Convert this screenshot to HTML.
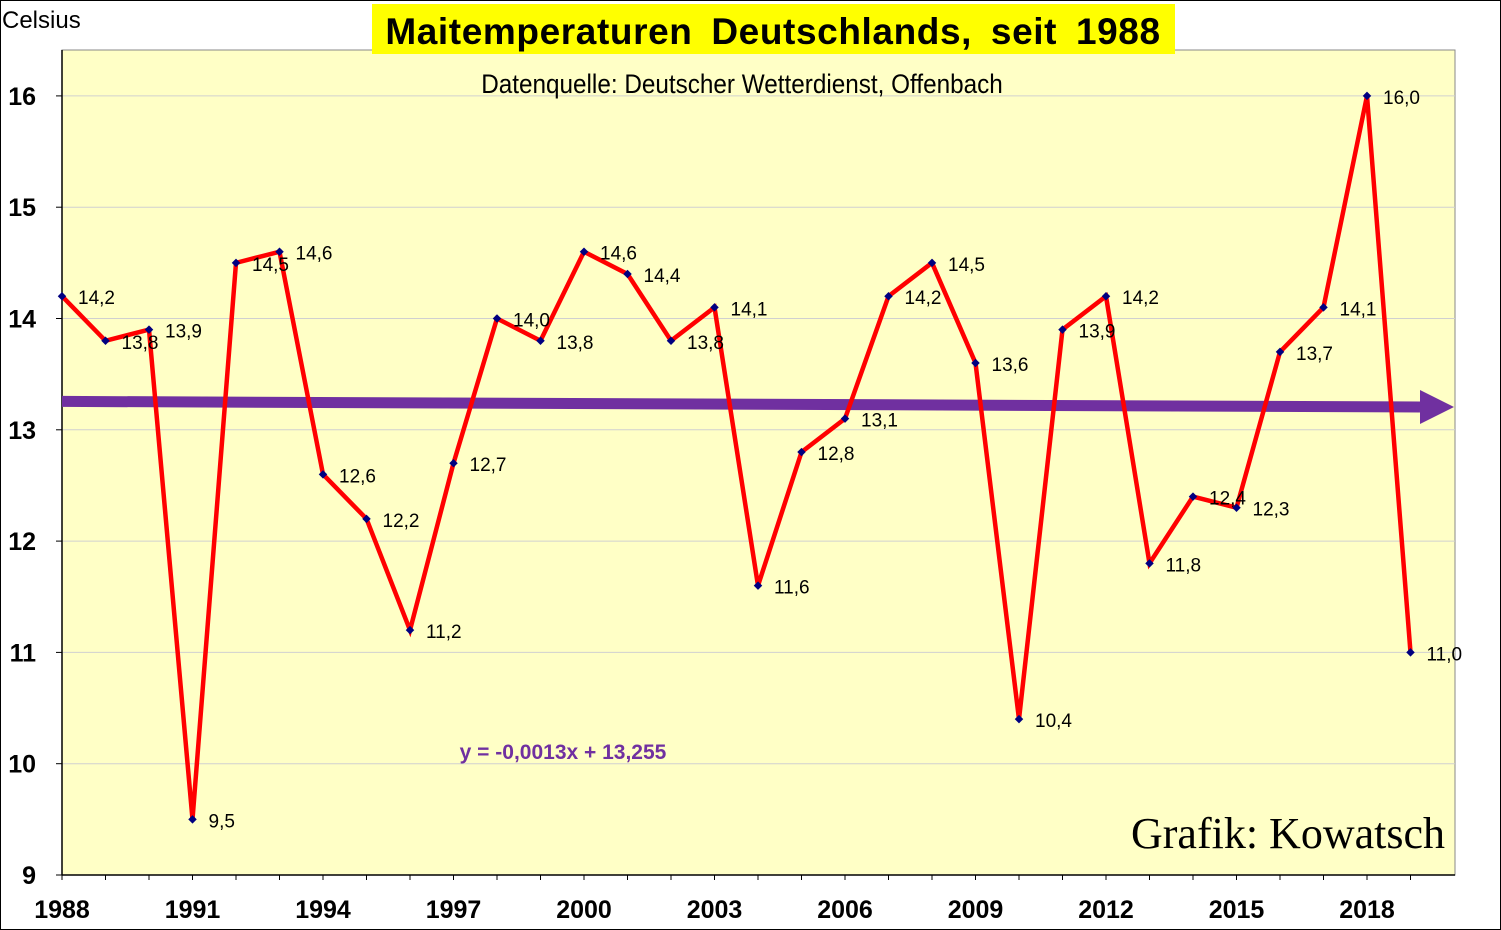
<!DOCTYPE html>
<html><head><meta charset="utf-8"><style>
body{margin:0;background:#fff;}
svg{display:block;font-family:"Liberation Sans",sans-serif;}
</style></head><body>
<svg id="chart" width="1501" height="930" viewBox="0 0 1501 930">
<rect x="0.5" y="0.5" width="1500" height="929" fill="#fff" stroke="#000"/>
<rect x="62" y="50" width="1393" height="825" fill="#FFFFC6" stroke="#888"/>
<g id="grid"></g>
<g id="axes"></g>
<g id="trend"></g>
<g id="series"></g>
<text x="2" y="28" font-size="24">Celsius</text>
<rect x="372" y="4" width="803" height="50" fill="#FFFF00"/>
<text x="773" y="44" font-size="37" font-weight="bold" text-anchor="middle" word-spacing="8" letter-spacing="0.6">Maitemperaturen Deutschlands, seit 1988</text>
<text x="742" y="93" font-size="27" text-anchor="middle" transform="translate(742 0) scale(0.9 1) translate(-742 0)">Datenquelle: Deutscher Wetterdienst, Offenbach</text>
<text x="563" y="759" font-size="21" font-weight="bold" fill="#7030A0" text-anchor="middle">y = -0,0013x + 13,255</text>
<text x="1445" y="848" font-size="44" font-family="Liberation Serif,serif" text-anchor="end">Grafik: Kowatsch</text>
</svg>
<script>
const years=[1988,1989,1990,1991,1992,1993,1994,1995,1996,1997,1998,1999,2000,2001,2002,2003,2004,2005,2006,2007,2008,2009,2010,2011,2012,2013,2014,2015,2016,2017,2018,2019];
const temps=[14.2,13.8,13.9,9.5,14.5,14.6,12.6,12.2,11.2,12.7,14.0,13.8,14.6,14.4,13.8,14.1,11.6,12.8,13.1,14.2,14.5,13.6,10.4,13.9,14.2,11.8,12.4,12.3,13.7,14.1,16.0,11.0];
const yTicks=[9,10,11,12,13,14,15,16];
const xTicks=[1988,1991,1994,1997,2000,2003,2006,2009,2012,2015,2018];
const trendStart=13.255, trendSlope=-0.0016;
const NS="http://www.w3.org/2000/svg";
const X=y=>62+(y-1988)*43.5;
const Y=v=>875-(v-9)*111.3;
function mk(tag,attrs,parent,txt){const e=document.createElementNS(NS,tag);for(const k in attrs)e.setAttribute(k,attrs[k]);if(txt!=null)e.textContent=txt;document.getElementById(parent).appendChild(e);return e;}
yTicks.forEach(v=>{
 if(v>9){const g=mk('line',{x1:62,x2:1455,y1:Y(v),y2:Y(v),stroke:'#d0d0d0','stroke-width':1},'grid');
 
 }
 const t=mk('line',{x1:56,x2:62,y1:Y(v),y2:Y(v),stroke:'#000'},'axes');
 
 
 const l=mk('text',{x:36,y:Y(v)+9,'font-size':25,'font-weight':'bold','text-anchor':'end'},'axes',String(v));
 
 
});
const ax=mk('line',{x1:62,x2:1455,y1:875,y2:875,stroke:'#000','stroke-width':1.5},'axes');


const ay=mk('line',{x1:62,x2:62,y1:50,y2:875,stroke:'#000','stroke-width':1.5},'axes');


years.forEach(y=>{const t=mk('line',{x1:X(y),x2:X(y),y1:875,y2:880,stroke:'#000'},'axes');
 
 });
xTicks.forEach(y=>{const l=mk('text',{x:X(y),y:918,'font-size':25,'font-weight':'bold','text-anchor':'middle'},'axes',String(y));
 
 });
const tx1=X(1988),ty1=Y(trendStart),tx2=1420,ty2=Y(trendStart+trendSlope*((1420-62)/43.5));
const tl=mk('line',{x1:tx1,y1:ty1,x2:tx2,y2:ty2,stroke:'#7030A0','stroke-width':11},'trend');


const ah=mk('polygon',{points:`${tx2},${ty2-17} 1454,${ty2} ${tx2},${ty2+17}`,fill:'#7030A0'},'trend');


const pts=years.map((y,i)=>X(y)+','+Y(temps[i])).join(' ');
const pl=mk('polyline',{points:pts,fill:'none',stroke:'#FF0000','stroke-width':4.5,'stroke-linejoin':'miter'},'series');


years.forEach((y,i)=>{
 const cx=X(y),cy=Y(temps[i]);
 const m=mk('rect',{x:cx-3,y:cy-3,width:6,height:6,fill:'#000080',transform:`rotate(45 ${cx} ${cy})`},'series');
 
 
 const l=mk('text',{x:cx+16,y:cy+8,'font-size':19},'series',temps[i].toFixed(1).replace('.',','));
 
 
});
</script>
</body></html>
